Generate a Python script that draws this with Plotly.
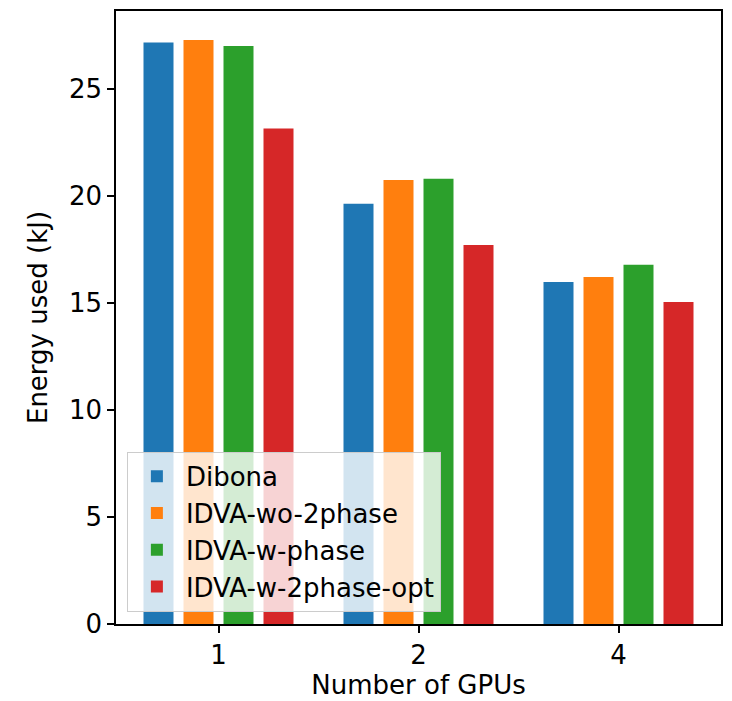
import plotly.graph_objects as go

gpus = ["1", "2", "4"]
series_names = ["Dibona", "IDVA-wo-2phase", "IDVA-w-phase", "IDVA-w-2phase-opt"]
dibona = [27.17, 19.64, 15.98]
idva_wo_2phase = [27.28, 20.74, 16.21]
idva_w_phase = [27.00, 20.80, 16.78]
idva_w_2phase_opt = [23.15, 17.71, 15.04]
colors = ["#1f77b4", "#ff7f0e", "#2ca02c", "#d62728"]
y_ticks = [0, 5, 10, 15, 20, 25]

values = [dibona, idva_wo_2phase, idva_w_phase, idva_w_2phase_opt]
xpos = list(range(len(gpus)))

fig = go.Figure()
for name, vals, col in zip(series_names, values, colors):
    fig.add_trace(go.Bar(x=xpos, y=vals, name=name, marker=dict(color=col, line=dict(width=0))))

font = "DejaVu Sans"
fs = 26
fig.update_layout(
    width=732, height=701,
    margin=dict(l=116, r=10, t=9, b=77),
    paper_bgcolor="white", plot_bgcolor="white",
    barmode="group", bargap=0.2, bargroupgap=0.25,
    font=dict(family=font, size=fs, color="black"),
    showlegend=True,
    legend=dict(
        x=0.018, y=0.02, xanchor="left", yanchor="bottom",
        bgcolor="rgba(255,255,255,0.8)", bordercolor="#cccccc", borderwidth=1,
        font=dict(family=font, size=fs, color="black"),
        itemwidth=48, tracegroupgap=0,
    ),
)
fig.update_xaxes(
    range=[-0.5125, 2.5125], tickmode="array", tickvals=xpos, ticktext=gpus,
    showline=True, linecolor="black", linewidth=1.5, mirror=True,
    ticks="outside", ticklen=7, tickwidth=1.5, tickcolor="black",
    showgrid=False, zeroline=False,
    title=dict(text="Number of GPUs", standoff=2, font=dict(size=fs)),
    tickfont=dict(size=fs),
)
fig.update_yaxes(
    range=[0, 28.64], tickmode="array", tickvals=y_ticks,
    showline=True, linecolor="black", linewidth=1.5, mirror=True,
    ticks="outside", ticklen=7, tickwidth=1.5, tickcolor="black",
    showgrid=False, zeroline=False,
    title=dict(text="Energy used (kJ)", standoff=14, font=dict(size=fs)),
    tickfont=dict(size=fs),
)
fig.write_html("out.html")
